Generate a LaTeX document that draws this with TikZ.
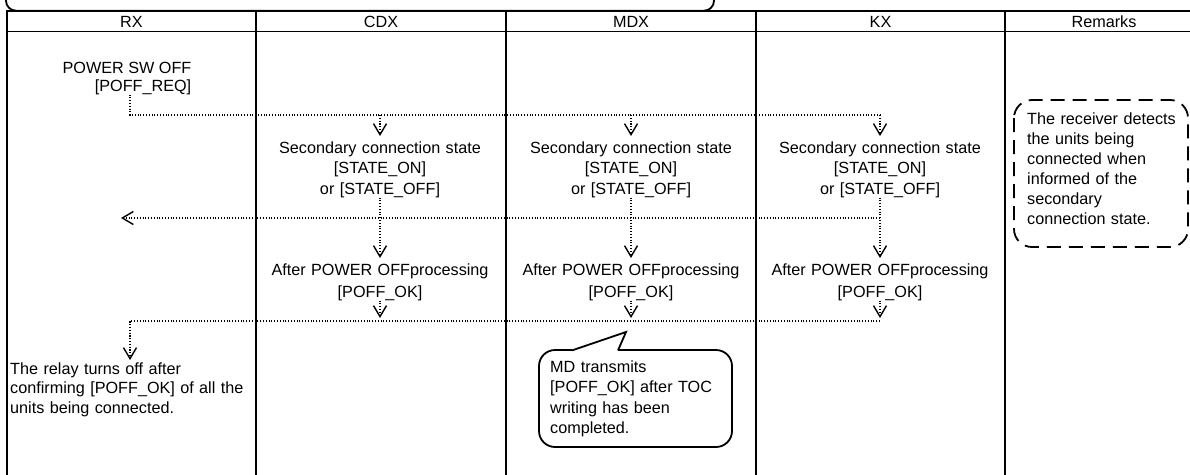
\documentclass[tikz,border=0pt]{standalone}
\usepackage{fontspec}
\setmainfont{Liberation Sans}
\usetikzlibrary{arrows.meta}
\newcommand{\fsMain}{\fontsize{16.2pt}{20.5pt}\selectfont}
\newcommand{\fsWide}{\fontsize{16.2pt}{22pt}\selectfont}
\newcommand{\fsRx}{\fontsize{16.2pt}{19.7pt}\selectfont}
\newcommand{\fsRem}{\fontsize{16.2pt}{20pt}\selectfont}
\begin{document}
\begin{tikzpicture}[x=1pt,y=-1pt,
  frame/.style={line width=1.8pt},
  dotline/.style={line width=1.1pt, dash pattern=on 1.1pt off 1.7pt},
  arr/.style={-{Straight Barb[length=11pt,width=13pt,line width=1.4pt]}},
  head/.style={inner sep=0pt, anchor=base, font=\fsMain},
  ctext/.style={inner sep=0pt, anchor=base, text width=240pt, align=center},
  ltext/.style={inner sep=0pt, anchor=base west, text width=300pt, align=left}
]
\useasboundingbox (0,0) rectangle (1190,474);
\clip (0,0) rectangle (1190,474);

% top callout edge (cut off)
\draw[frame, rounded corners=10pt] (6,-40) -- (6,10.7) -- (714,10.7) -- (714,-40);

% table
\draw[frame] (7,10.7) rectangle (1203,490);
\draw[frame] (7,31.5) -- (1203,31.5);
\foreach \xx in {256,506,756,1005} \draw[frame] (\xx,10.7) -- (\xx,490);

% headers
\node[head] (hRX) at (131.5,27) {RX};
\node[head] (hCDX) at (381,27) {CDX};
\node[head] (hMDX) at (631,27) {MDX};
\node[head] (hKX) at (880.5,27) {KX};
\node[head] (hRem) at (1104,27) {Remarks};

% RX request
\node[head] (pwr1) at (127,73) {POWER SW OFF};
\node[head] (pwr2) at (143,91) {[POFF\_REQ]};

% secondary connection state
\node[ctext, font=\fsMain] (sc1) at (380,153) {Secondary connection state\\{}[STATE\_ON]\\or [STATE\_OFF]};
\node[ctext, font=\fsMain] (sc2) at (631,153) {Secondary connection state\\{}[STATE\_ON]\\or [STATE\_OFF]};
\node[ctext, font=\fsMain] (sc3) at (880,153) {Secondary connection state\\{}[STATE\_ON]\\or [STATE\_OFF]};

% after power off
\node[ctext, font=\fsWide] (ap1) at (380,275) {After POWER OFFprocessing\\{}[POFF\_OK]};
\node[ctext, font=\fsWide] (ap2) at (631,275) {After POWER OFFprocessing\\{}[POFF\_OK]};
\node[ctext, font=\fsWide] (ap3) at (880,275) {After POWER OFFprocessing\\{}[POFF\_OK]};

% RX final text
\node[ltext, font=\fsRx] (rxt) at (10,374) {The relay turns off after\\confirming [POFF\_OK] of all the\\units being connected.};

% MDX callout
\node[ltext, font=\fsMain] (mdt) at (550,372) {MD transmits\\{}[POFF\_OK] after TOC\\writing has been\\completed.};
\draw[frame, rounded corners=16pt] (572,350) -- (539,350) -- (539,447) -- (732,447) -- (732,350) -- (618,350);
\draw[frame] (572,350.4) -- (626,332) -- (618,350.4);

% remarks
\node[ltext, font=\fsRem] (remt) at (1027,124) {The receiver detects\\the units being\\connected when\\informed of the\\secondary\\connection state.};
\draw[frame, dash pattern=on 14pt off 8pt, rounded corners=18pt] (1014,100) rectangle (1188,247);

% coordinates
\coordinate (q1) at (130,115);
\coordinate (r1) at (380,115);
\coordinate (r2) at (631,115);
\coordinate (r3) at (880,115);
\coordinate (t1) at (380,136);
\coordinate (t2) at (631,136);
\coordinate (t3) at (880,136);
\coordinate (u1) at (380,258);
\coordinate (u2) at (631,258);
\coordinate (u3) at (880,258);
\coordinate (m3) at (880,218);
\coordinate (mL) at (121,218);
\coordinate (v1) at (380,318);
\coordinate (v2) at (631,318);
\coordinate (v3) at (880,318);
\coordinate (w3) at (880,321);
\coordinate (wL) at (130,321);
\coordinate (wT) at (130,360);

% connectors
\draw[dotline] (pwr2.south -| q1) -- (q1) -- (r3);
\draw[dotline, arr] (r1) -- (t1);
\draw[dotline, arr] (r2) -- (t2);
\draw[dotline, arr] (r3) -- (t3);
\draw[dotline, arr] (sc1.south) -- (u1);
\draw[dotline, arr] (sc2.south) -- (u2);
\draw[dotline, arr] (sc3.south) -- (u3);
\draw[dotline, arr] (m3) -- (mL);
\draw[dotline, arr] (ap1.south) -- (v1);
\draw[dotline, arr] (ap2.south) -- (v2);
\draw[dotline, arr] (ap3.south) -- (v3);
\draw[dotline, arr] (w3) -- (wL) -- (wT);
\end{tikzpicture}
\end{document}
